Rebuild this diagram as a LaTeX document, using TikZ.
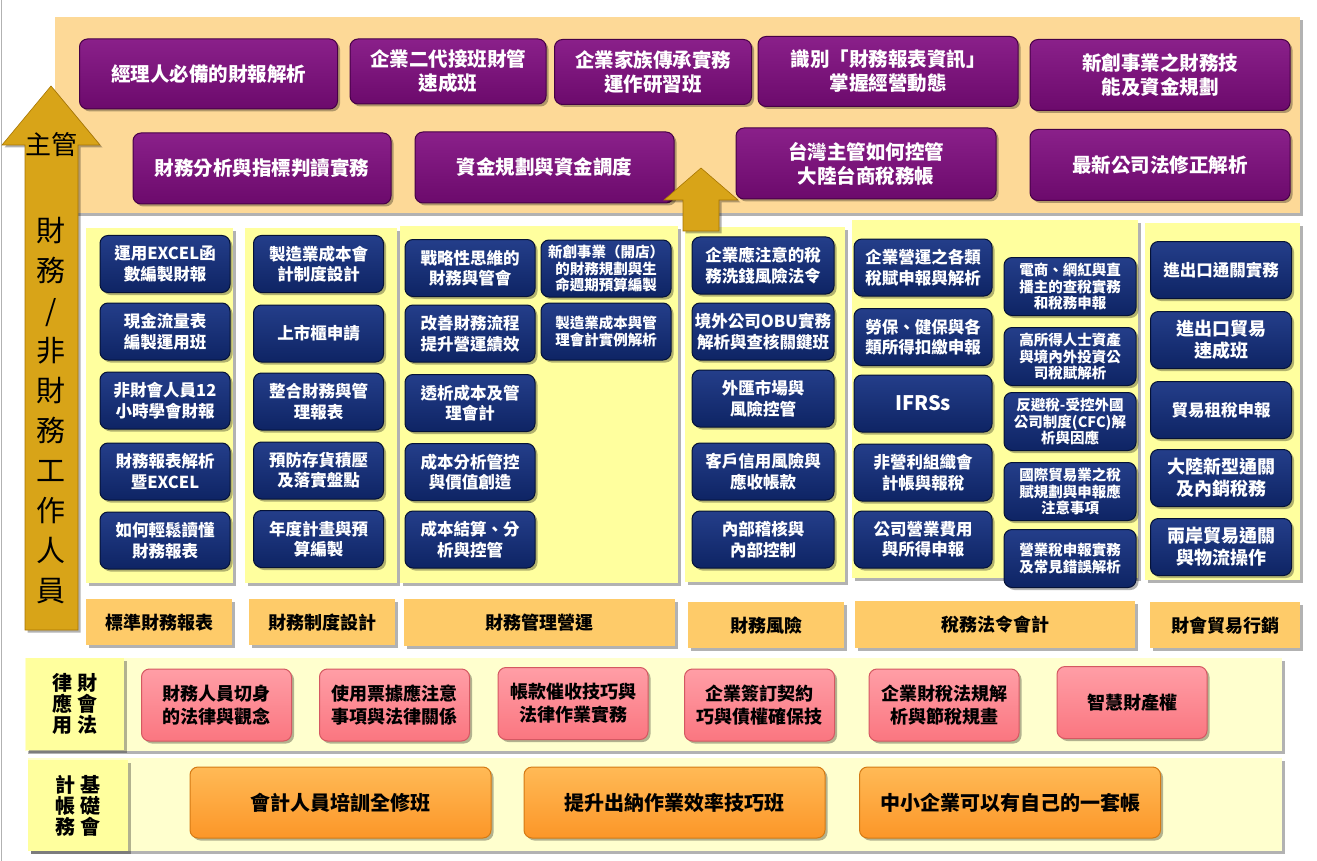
\documentclass[tikz,border=0pt]{standalone}
\usepackage{fontspec}
\setmainfont{Noto Sans CJK TC}
\usetikzlibrary{shadows}

\definecolor{roxo}{RGB}{108,10,108}
\definecolor{roxoclaro}{RGB}{138,32,138}
\definecolor{roxoescuro}{RGB}{70,0,70}
\definecolor{marinho}{RGB}{14,36,100}
\definecolor{marinhoclaro}{RGB}{36,62,138}
\definecolor{marinhoescuro}{RGB}{5,18,55}
\definecolor{salmao}{RGB}{250,118,128}
\definecolor{salmaoclaro}{RGB}{255,158,166}
\definecolor{salmaoescuro}{RGB}{212,88,98}
\definecolor{abobora}{RGB}{252,150,40}
\definecolor{aboboraclaro}{RGB}{255,186,86}
\definecolor{aboboraescuro}{RGB}{212,122,20}
\definecolor{ouro}{RGB}{216,164,24}
\definecolor{ouroescuro}{RGB}{168,118,0}
\definecolor{pessego}{RGB}{253,217,151}
\definecolor{amarelo}{RGB}{255,255,158}
\definecolor{creme}{RGB}{255,255,206}
\definecolor{damasco}{RGB}{254,203,105}

\begin{document}
\begin{tikzpicture}[x=1pt, y=-1pt,
    sombra/.style={drop shadow={shadow xshift=2.5pt, shadow yshift=-2.5pt, opacity=0.3, fill=black}},
    caixa/.style={rounded corners=8pt, line width=1pt, align=center, inner sep=1pt, sombra},
    caixaroxa/.style={caixa, top color=roxoclaro, bottom color=roxo, draw=roxoescuro, text=white, font=\bfseries\fontsize{19.5}{24}\selectfont},
    caixaazul/.style={caixa, top color=marinhoclaro, bottom color=marinho, draw=marinhoescuro, text=white, font=\bfseries\fontsize{16.5}{20.5}\selectfont, minimum width=130pt, minimum height=57pt},
    caixapeq/.style={caixaazul, font=\bfseries\fontsize{14.5}{16.5}\selectfont},
    caixarosa/.style={caixa, top color=salmaoclaro, bottom color=salmao, draw=salmaoescuro, font=\bfseries\fontsize{18}{23}\selectfont, minimum width=150pt, minimum height=72pt},
    caixalaranja/.style={caixa, top color=aboboraclaro, bottom color=abobora, draw=aboboraescuro, font=\bfseries\fontsize{20}{24}\selectfont, minimum width=301pt, minimum height=71pt},
    painel/.style={fill=amarelo, inner sep=0pt, anchor=north west, sombra},
    rotulo/.style={fill=damasco, inner sep=0pt, anchor=north west, font=\bfseries\fontsize{18}{20}\selectfont, sombra},
    seta/.style={fill=ouro, draw=ouroescuro, line width=0.6pt, sombra}]

    \useasboundingbox (0,0) rectangle (1317,861);
    \fill[white] (0,0) rectangle (1317,861);
    \draw[black!30] (0.8,0) -- (0.8,861);

    % Gestores
    \node[painel, fill=pessego, minimum width=1245pt, minimum height=196pt] (topo) at (55,17) {};
    \node[caixaroxa, minimum width=258pt, minimum height=70pt] (g1) at (208.5,74) {經理人必備的財報解析};
    \node[caixaroxa, minimum width=196pt, minimum height=65pt] (g2) at (448,71.5) {企業二代接班財管\\速成班};
    \node[caixaroxa, minimum width=197pt, minimum height=65pt] (g3) at (653,72) {企業家族傳承實務\\運作研習班};
    \node[caixaroxa, minimum width=260pt, minimum height=70pt] (g4) at (888,71.5) {識別「財務報表資訊」\\掌握經營動態};
    \node[caixaroxa, minimum width=260pt, minimum height=71pt] (g5) at (1160,75) {新創事業之財務技\\能及資金規劃};
    \node[caixaroxa, minimum width=258pt, minimum height=71pt] (g6) at (262,168.5) {財務分析與指標判讀實務};
    \node[caixaroxa, minimum width=259pt, minimum height=71pt] (g7) at (544.5,167.5) {資金規劃與資金調度};
    \node[caixaroxa, minimum width=260pt, minimum height=71pt] (g8) at (866,163.5) {台灣主管如何控管\\大陸台商稅務帳};
    \node[caixaroxa, minimum width=260pt, minimum height=71pt] (g9) at (1160,165) {最新公司法修正解析};

    % Paineis
    \node[painel, minimum width=147pt, minimum height=355pt] (c1) at (86,228) {};
    \node[painel, minimum width=152pt, minimum height=355pt] (c2) at (245,228) {};
    \node[painel, minimum width=278pt, minimum height=357pt] (c3) at (400,226) {};
    \node[painel, minimum width=160pt, minimum height=355pt] (c4) at (685,227) {};
    \node[painel, minimum width=286pt, minimum height=358pt] (c5) at (852,220) {};
    \node[painel, minimum width=155pt, minimum height=357pt] (c6) at (1145,223) {};

    % Setas
    \draw[seta] (25,630) -- (25,145) -- (2,145) -- (51,86) -- (100,145) -- (78,145) -- (78,630) -- cycle;
    \draw[seta] (683,231) -- (683,200) -- (664,200) -- (701,168) -- (738,200) -- (719,200) -- (719,231) -- cycle;
    \node[font=\fontsize{26}{28}\selectfont] (chefe) at (51,145) {主管};
    \node[font=\fontsize{29}{40}\selectfont, align=center] (pessoal) at (51,411) {財\\務\\/\\非\\財\\務\\工\\作\\人\\員};

    % Coluna 1
    \node[caixaazul] (c1r1) at (165,264) {運用EXCEL函\\數編製財報};
    \node[caixaazul] (c1r2) at (165,331.5) {現金流量表\\編製運用班};
    \node[caixaazul] (c1r3) at (165,400.5) {非財會人員12\\小時學會財報};
    \node[caixaazul] (c1r4) at (165,471.5) {財務報表解析\\暨EXCEL};
    \node[caixaazul] (c1r5) at (165,540.5) {如何輕鬆讀懂\\財務報表};

    % Coluna 2
    \node[caixaazul] (c2r1) at (318.5,264) {製造業成本會\\計制度設計};
    \node[caixaazul] (c2r2) at (318.5,333.5) {上市櫃申請};
    \node[caixaazul] (c2r3) at (318.5,401.5) {整合財務與管\\理報表};
    \node[caixaazul] (c2r4) at (318.5,470.5) {預防存貨積壓\\及落實盤點};
    \node[caixaazul] (c2r5) at (318.5,539) {年度計畫與預\\算編製};

    % Coluna 3
    \node[caixaazul] (c3r1) at (470,268) {戰略性思維的\\財務與管會};
    \node[caixaazul] (c3r2) at (470,333.5) {改善財務流程\\提升營運績效};
    \node[caixaazul] (c3r3) at (470,403) {透析成本及管\\理會計};
    \node[caixaazul] (c3r4) at (470,472) {成本分析管控\\與價值創造};
    \node[caixaazul] (c3r5) at (470,539.5) {成本結算、分\\析與控管};
    \node[caixapeq] (c3s1) at (606,268.5) {新創事業（開店）\\的財務規劃與生\\命週期預算編製};
    \node[caixapeq] (c3s2) at (606,331.5) {製造業成本與管\\理會計實例解析};

    % Coluna 4
    \node[caixaazul, minimum width=142pt] (c4r1) at (763,265.5) {企業應注意的稅\\務洗錢風險法令};
    \node[caixaazul, minimum width=142pt] (c4r2) at (763,331.5) {境外公司OBU實務\\解析與查核關鍵班};
    \node[caixaazul, minimum width=142pt] (c4r3) at (763,398.5) {外匯市場與\\風險控管};
    \node[caixaazul, minimum width=142pt] (c4r4) at (763,471.5) {客戶信用風險與\\應收帳款};
    \node[caixaazul, minimum width=142pt] (c4r5) at (763,539.5) {內部稽核與\\內部控制};

    % Coluna 5
    \node[caixaazul, minimum width=138pt] (c5r1) at (923,267.5) {企業營運之各類\\稅賦申報與解析};
    \node[caixaazul, minimum width=138pt] (c5r2) at (923,337) {勞保、健保與各\\類所得扣繳申報};
    \node[caixaazul, minimum width=138pt, font=\bfseries\fontsize{20}{24}\selectfont] (c5r3) at (923,403.5) {IFRSs};
    \node[caixaazul, minimum width=138pt] (c5r4) at (923,472.5) {非營利組織會\\計帳與報稅};
    \node[caixaazul, minimum width=138pt] (c5r5) at (923,539.5) {公司營業費用\\與所得申報};
    \node[caixapeq, minimum width=132pt, minimum height=58pt] (c5s1) at (1070,286.5) {電商、網紅與直\\播主的查稅實務\\和稅務申報};
    \node[caixapeq, minimum width=132pt, minimum height=58pt] (c5s2) at (1070,356.5) {高所得人士資產\\與境內外投資公\\司稅賦解析};
    \node[caixapeq, minimum width=132pt, minimum height=58pt] (c5s3) at (1070,421.5) {反避稅-受控外國\\公司制度(CFC)解\\析與因應};
    \node[caixapeq, minimum width=132pt, minimum height=58pt] (c5s4) at (1070,491.5) {國際貿易業之稅\\賦規劃與申報應\\注意事項};
    \node[caixapeq, minimum width=132pt, minimum height=58pt] (c5s5) at (1070,558.5) {營業稅申報實務\\及常見錯誤解析};

    % Coluna 6
    \node[caixaazul, minimum width=141pt] (c6r1) at (1221,270) {進出口通關實務};
    \node[caixaazul, minimum width=141pt, font=\bfseries\fontsize{18}{22}\selectfont] (c6r2) at (1221,340) {進出口貿易\\速成班};
    \node[caixaazul, minimum width=141pt] (c6r3) at (1221,410) {貿易租稅申報};
    \node[caixaazul, minimum width=141pt, font=\bfseries\fontsize{18}{22}\selectfont] (c6r4) at (1221,478) {大陸新型通關\\及內銷稅務};
    \node[caixaazul, minimum width=141pt, font=\bfseries\fontsize{18}{22}\selectfont] (c6r5) at (1221,547) {兩岸貿易通關\\與物流操作};

    % Rotulos
    \node[rotulo, minimum width=146pt, minimum height=46pt] (k1) at (86,599) {標準財務報表};
    \node[rotulo, minimum width=146pt, minimum height=46pt] (k2) at (249,599) {財務制度設計};
    \node[rotulo, minimum width=271pt, minimum height=47pt] (k3) at (404,599) {財務管理營運};
    \node[rotulo, minimum width=156pt, minimum height=46pt] (k4) at (688,602) {財務風險};
    \node[rotulo, minimum width=280pt, minimum height=47pt] (k5) at (855,601) {稅務法令會計};
    \node[rotulo, minimum width=150pt, minimum height=46pt] (k6) at (1150,602) {財會貿易行銷};

    % Financas e direito
    \node[painel, fill=creme, minimum width=1257pt, minimum height=93pt] (leis) at (25,658) {};
    \node[painel, minimum width=98pt, minimum height=92pt, font=\bfseries\fontsize{20}{21}\selectfont, align=center] (leisr) at (26,658) {律\hspace{5pt}財\\應\hspace{5pt}會\\用\hspace{5pt}法};
    \node[caixarosa] (p1) at (216.5,705) {財務人員切身\\的法律與觀念};
    \node[caixarosa] (p2) at (394.5,705) {使用票據應注意\\事項與法律關係};
    \node[caixarosa] (p3) at (573,703.5) {帳款催收技巧與\\法律作業實務};
    \node[caixarosa] (p4) at (759.5,705) {企業簽訂契約\\巧與債權確保技};
    \node[caixarosa] (p5) at (944,705) {企業財稅法規解\\析與節稅規畫};
    \node[caixarosa] (p6) at (1132,702.5) {智慧財產權};

    % Contabilidade basica
    \node[painel, fill=creme, minimum width=1254pt, minimum height=93pt] (base) at (28,758) {};
    \node[painel, minimum width=100pt, minimum height=91pt, font=\bfseries\fontsize{20}{21}\selectfont, align=center] (baser) at (28,760) {計\hspace{5pt}基\\帳\hspace{5pt}礎\\務\hspace{5pt}會};
    \node[caixalaranja] (o1) at (340.5,802.5) {會計人員培訓全修班};
    \node[caixalaranja] (o2) at (674.5,802.5) {提升出納作業效率技巧班};
    \node[caixalaranja] (o3) at (1010,802.5) {中小企業可以有自己的一套帳};
\end{tikzpicture}
\end{document}
